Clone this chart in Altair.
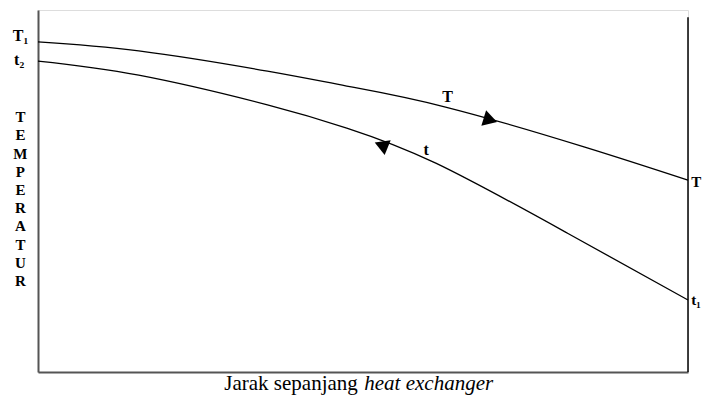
import altair as alt
import pandas as pd

# Curve data (x = distance along exchanger, y = temperature, arbitrary units)
dist = [0, 15.5, 35.3, 47.5, 62.7, 84.0, 100]
temp_hot = [91.2, 88.7, 83.1, 79.0, 73.2, 62.2, 53.0]
dist_cold = [0, 15.5, 35.3, 47.5, 61.2, 81.4, 100]
temp_cold = [85.9, 82.0, 73.8, 67.4, 57.7, 38.4, 19.9]

# Arrow markers
arrow_x = [69.6, 52.8]
arrow_y = [69.6, 62.7]
arrow_shape = ["triangle-right", "triangle-left"]
arrow_angle = [17, 22]

# Text labels
lab_text = ["T\u2081", "t\u2082", "T", "t\u2081", "T", "t"]
lab_x = [-2.7, -2.9, 100.5, 100.5, 63.0, 59.7]
lab_y = [92.8, 86.2, 52.5, 19.9, 76.0, 61.3]
lab_align = ["center", "center", "left", "left", "center", "center"]

ylabel = "TEMPERATUR"

hot = pd.DataFrame({"x": dist, "y": temp_hot, "s": "T"})
cold = pd.DataFrame({"x": dist_cold, "y": temp_cold, "s": "t"})
curves = pd.concat([hot, cold])
arrows = pd.DataFrame({"x": arrow_x, "y": arrow_y, "shape": arrow_shape, "angle": arrow_angle})
labels = pd.DataFrame({"x": lab_x, "y": lab_y, "text": lab_text, "align": lab_align})

xs = alt.Scale(domain=[0, 100], nice=False, zero=False)
ys = alt.Scale(domain=[0, 100], nice=False, zero=False)

X = alt.X("x:Q", scale=xs, axis=alt.Axis(title=None, labels=False, ticks=False, grid=False,
                                          domainColor="#555555", domainWidth=2))
Y = alt.Y("y:Q", scale=ys, axis=alt.Axis(title=None, labels=False, ticks=False, grid=False,
                                          domainColor="#555555", domainWidth=2))

lines = alt.Chart(curves).mark_line(color="black", strokeWidth=1.3, interpolate="natural").encode(
    x=X, y=Y, detail="s:N")

right_rule = alt.Chart(pd.DataFrame({"x": [100], "y": [0], "y2": [98]})).mark_rule(
    color="black", strokeWidth=1.5).encode(x="x:Q", y="y:Q", y2="y2:Q")

arrow_marks = alt.Chart(arrows).mark_point(filled=True, color="black", opacity=1, size=260).encode(
    x="x:Q", y="y:Q",
    shape=alt.Shape("shape:N", scale=None, legend=None),
    angle=alt.Angle("angle:Q", scale=None))

label_c = alt.Chart(labels[labels["align"] == "center"]).mark_text(
    font="Liberation Serif", fontSize=16, color="black", fontWeight="bold", align="center").encode(
    x="x:Q", y="y:Q", text="text:N")
label_l = alt.Chart(labels[labels["align"] == "left"]).mark_text(
    font="Liberation Serif", fontSize=15, color="black", fontWeight="bold", align="left").encode(
    x="x:Q", y="y:Q", text="text:N")

ytitle = alt.Chart(pd.DataFrame({"x": [-2.7], "y": [70.4], "t": ["\n".join(ylabel)]})).mark_text(
    font="Liberation Serif", fontSize=15, fontWeight="bold", color="black",
    lineBreak="\n", lineHeight=18.2).encode(x="x:Q", y="y:Q", text="t:N")

xt1 = alt.Chart(pd.DataFrame({"x": [49.2], "y": [-3.3], "t": ["Jarak sepanjang"]})).mark_text(
    font="Liberation Serif", fontSize=21, color="black", align="right", baseline="middle").encode(
    x="x:Q", y="y:Q", text="t:N")
xt2 = alt.Chart(pd.DataFrame({"x": [50.2], "y": [-3.3], "t": ["heat exchanger"]})).mark_text(
    font="Liberation Serif", fontSize=21, color="black", align="left", baseline="middle",
    fontStyle="italic").encode(x="x:Q", y="y:Q", text="t:N")

chart = alt.layer(lines, right_rule, arrow_marks, label_c, label_l, ytitle, xt1, xt2).properties(
    width=650, height=362,
    autosize=alt.AutoSizeParams(type="none"),
    padding={"left": 30, "top": 2, "right": 17, "bottom": 26},
).configure_view(stroke=None).configure(background="white")

chart.save("out.html", embed_options={"renderer": "svg", "actions": False})
